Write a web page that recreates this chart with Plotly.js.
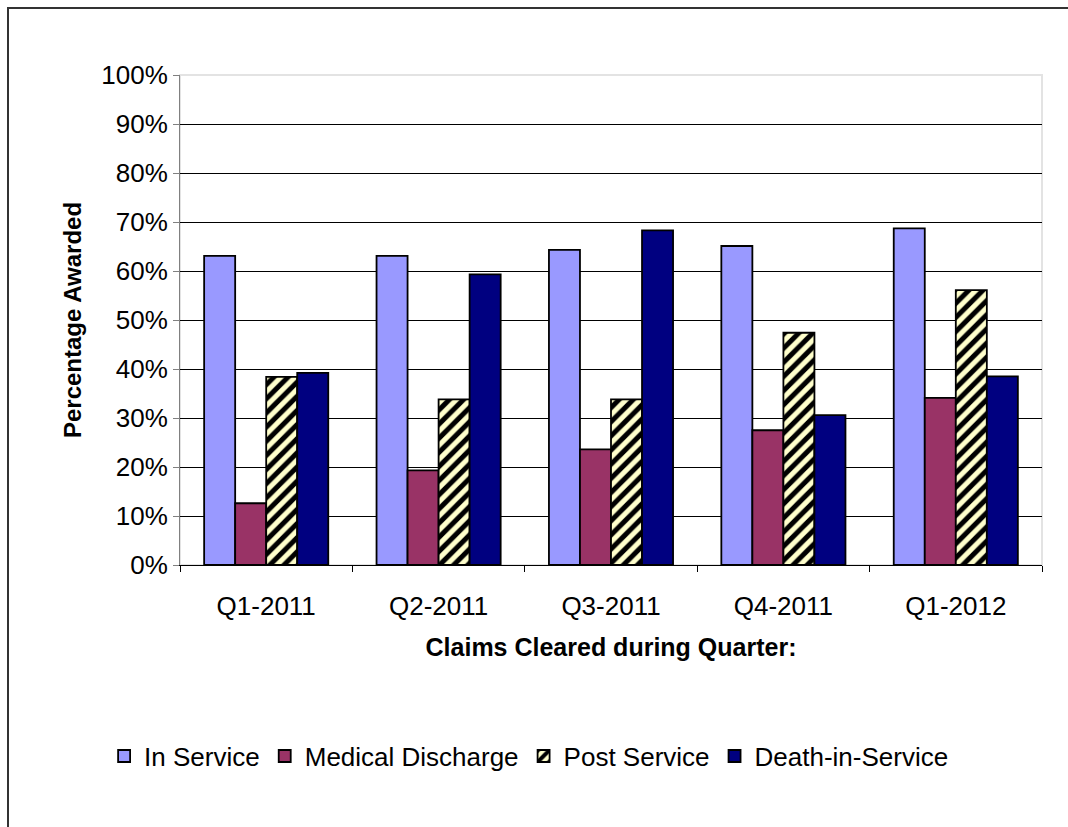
<!DOCTYPE html>
<html>
<head>
<meta charset="utf-8">
<script src="https://cdn.plot.ly/plotly-3.0.1.min.js"></script>
<style>
  html, body { margin: 0; padding: 0; background: #fff; overflow: hidden; }
  #frame { position: absolute; left: 7px; top: 7px; width: 1200px; height: 1000px; border: 2px solid #333; box-sizing: border-box; pointer-events: none; z-index: 5; }
  #chart { position: absolute; left: 0; top: 0; width: 1068px; height: 827px; }
</style>
</head>
<body>
<div id="chart"></div>
<div id="frame"></div>
<script>
const quarters = ["Q1-2011", "Q2-2011", "Q3-2011", "Q4-2011", "Q1-2012"];
const inService = [0.631, 0.631, 0.643, 0.651, 0.687];
const medicalDischarge = [0.126, 0.193, 0.236, 0.275, 0.341];
const postService = [0.384, 0.338, 0.338, 0.474, 0.561];
const deathInService = [0.392, 0.593, 0.683, 0.306, 0.385];

const seriesNames = ["In Service", "Medical Discharge", "Post Service", "Death-in-Service"];
const outline = { color: "#000000", width: 1.8 };

const traces = [
  { type: "bar", name: seriesNames[0], x: quarters, y: inService,
    marker: { color: "#9999FF", line: outline } },
  { type: "bar", name: seriesNames[1], x: quarters, y: medicalDischarge,
    marker: { color: "#993366", line: outline } },
  { type: "bar", name: seriesNames[2], x: quarters, y: postService,
    marker: { color: "#FFFFCC", line: outline,
      pattern: { shape: "/", bgcolor: "#FFFFCC", fgcolor: "#000000", fgopacity: 1, fillmode: "overlay", size: 10, solidity: 0.5 } } },
  { type: "bar", name: seriesNames[3], x: quarters, y: deathInService,
    marker: { color: "#000080", line: outline } }
];

const font = "Arial, 'Liberation Sans', sans-serif";

const layout = {
  width: 1068, height: 827,
  margin: { l: 180, r: 26, t: 75, b: 262 },
  paper_bgcolor: "#ffffff", plot_bgcolor: "#ffffff",
  font: { family: font, size: 26, color: "#000000" },
  barmode: "group", bargap: 0.28, bargroupgap: 0,
  showlegend: true,
  legend: { orientation: "h", x: 0.405, xanchor: "center", y: -0.39, yanchor: "middle",
    font: { family: font, size: 26, color: "#000" }, traceorder: "normal" },
  xaxis: {
    type: "category",
    showline: true, linecolor: "#000000", linewidth: 1,
    ticks: "outside", tickson: "boundaries", ticklen: 6, tickcolor: "#000000",
    tickfont: { family: font, size: 26 },
    ticklabelstandoff: 18,
    showgrid: false,
    title: { text: "<b>Claims Cleared during Quarter:</b>", font: { family: font, size: 25 }, standoff: 18 }
  },
  yaxis: {
    range: [0, 1], dtick: 0.1, tickformat: ".0%",
    showline: true, linecolor: "#808080", linewidth: 1,
    ticks: "outside", ticklen: 6, tickcolor: "#808080",
    tickfont: { family: font, size: 26 },
    showgrid: true, gridcolor: "#000000", gridwidth: 1,
    zeroline: false,
    title: { text: "<b>Percentage Awarded</b>", font: { family: font, size: 24 }, standoff: 12 }
  },
  shapes: [
    { type: "rect", xref: "paper", yref: "paper", x0: 0, x1: 1, y0: 0, y1: 1,
      line: { color: "#e3e3e3", width: 2 }, layer: "below" }
  ]
};

Plotly.newPlot("chart", traces, layout, { displayModeBar: false, staticPlot: true });
</script>
</body>
</html>
